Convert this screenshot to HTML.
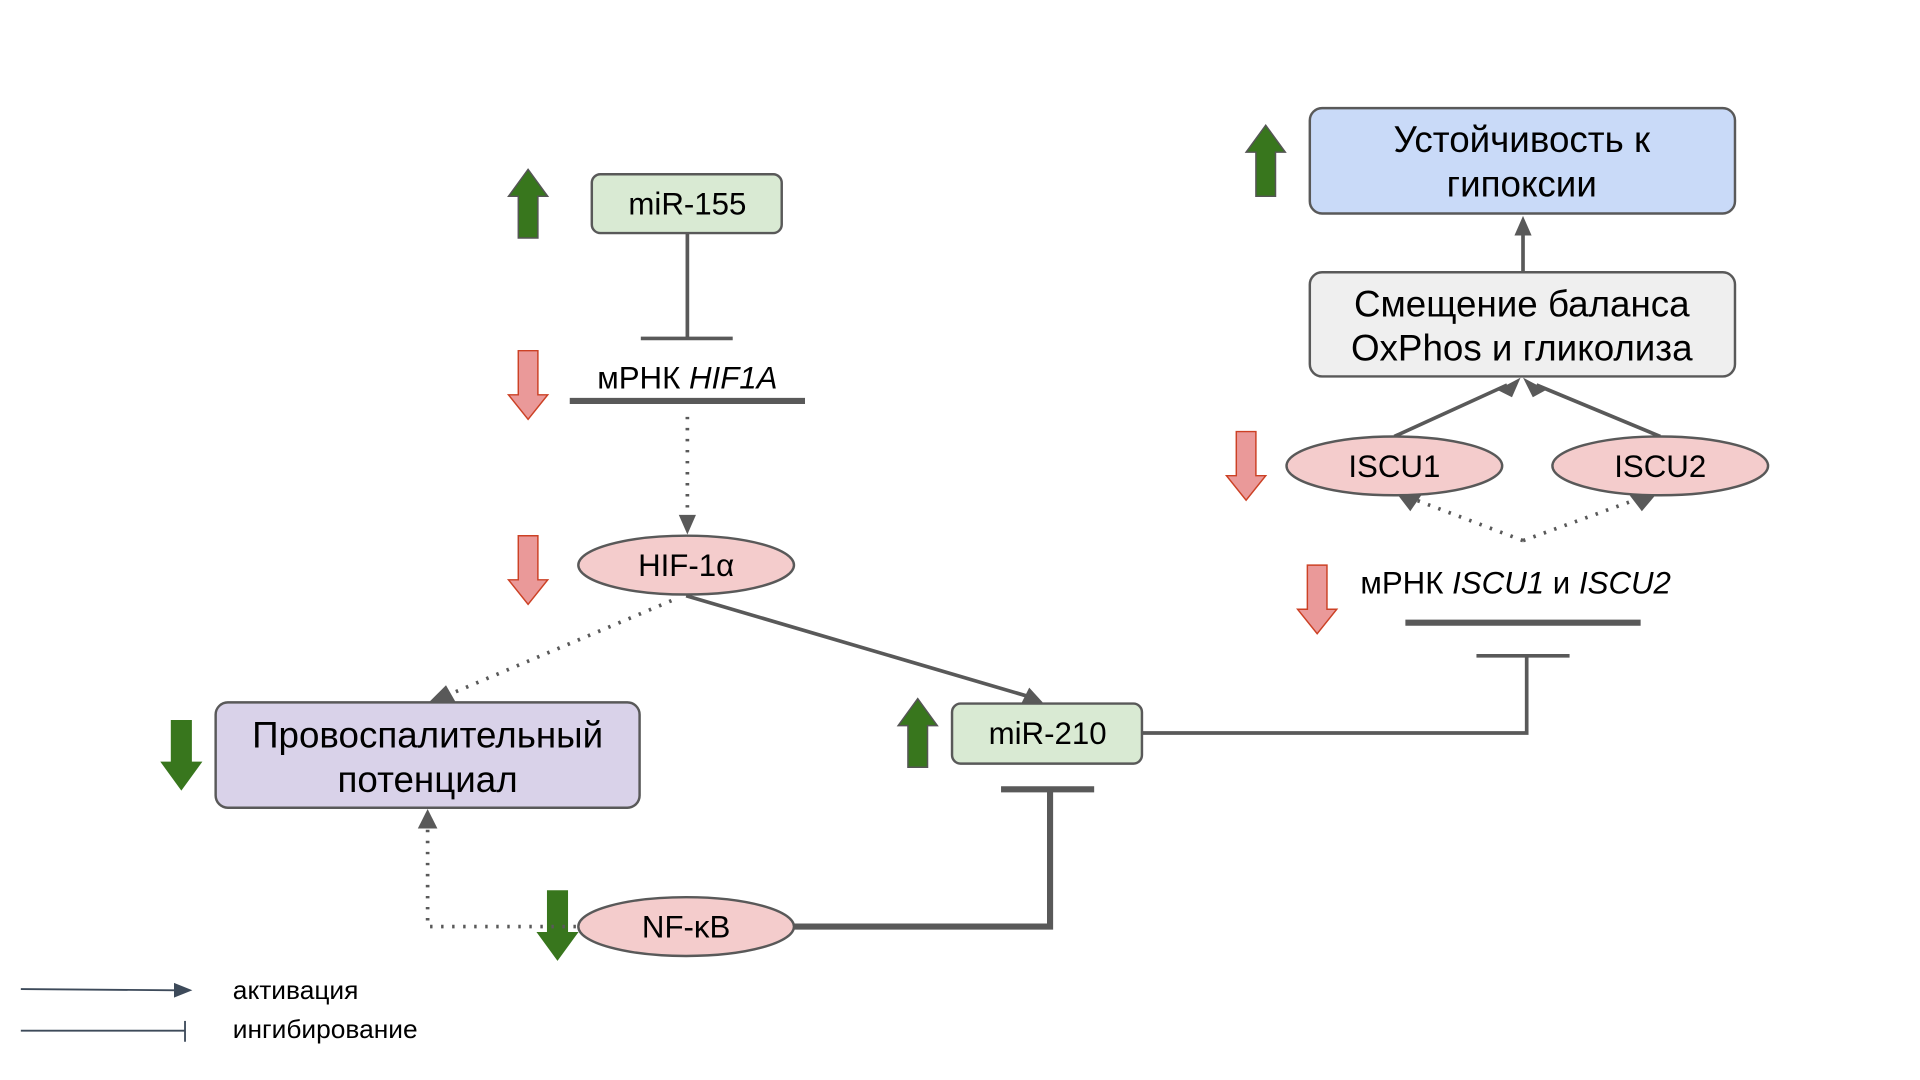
<!DOCTYPE html>
<html><head><meta charset="utf-8"><style>
html,body{margin:0;padding:0;background:#fff;}
svg{display:block;}
text{font-family:"Liberation Sans","DejaVu Sans",sans-serif;fill:#000;}
</style></head><body>
<svg width="1920" height="1080" viewBox="0 0 1567 881" xmlns="http://www.w3.org/2000/svg">
<rect width="1567" height="881" fill="#fff"/>

<g stroke-width="1.2">
<path d="M423,194 L423,160 L415,160 L431,138 L447,160 L439,160 L439,194 Z" fill="#38761d" stroke="#555"/>
<path d="M741,626 L741,592 L733,592 L749,570 L765,592 L757,592 L757,626 Z" fill="#38761d" stroke="#555"/>
<path d="M1025,160 L1025,124 L1017,124 L1033,102 L1049,124 L1041,124 L1041,160 Z" fill="#38761d" stroke="#555"/>
<path d="M140,588 L156,588 L156,622 L164,622 L148,644 L132,622 L140,622 Z" fill="#38761d" stroke="#38761d"/>
<path d="M447,727 L463,727 L463,761 L471,761 L455,783 L439,761 L447,761 Z" fill="#38761d" stroke="#38761d"/>
<path d="M423,286 L439,286 L439,322 L447,322 L431,342 L415,322 L423,322 Z" fill="#ea9999" stroke="#cc4125"/>
<path d="M423,437 L439,437 L439,473 L447,473 L431,493 L415,473 L423,473 Z" fill="#ea9999" stroke="#cc4125"/>
<path d="M1009,352 L1025,352 L1025,388 L1033,388 L1017,408 L1001,388 L1009,388 Z" fill="#ea9999" stroke="#cc4125"/>
<path d="M1067,461 L1083,461 L1083,497 L1091,497 L1075,517 L1059,497 L1067,497 Z" fill="#ea9999" stroke="#cc4125"/>
</g>

<g stroke="#595959" fill="none">
<line x1="561" y1="190" x2="561" y2="276" stroke-width="3"/>
<line x1="523" y1="276" x2="598" y2="276" stroke-width="3"/>
<line x1="465" y1="327" x2="657" y2="327" stroke-width="5"/>
<line x1="561" y1="340" x2="561" y2="428" stroke-width="3" stroke-dasharray="2,7"/>
<line x1="548" y1="490" x2="368" y2="566" stroke-width="3" stroke-dasharray="2,7"/>
<line x1="560" y1="486" x2="842" y2="569" stroke-width="3"/>
<line x1="817" y1="644" x2="893" y2="644" stroke-width="5"/>
<polyline points="857,644 857,756 648,756" stroke-width="5"/>
<polyline points="470,756 349,756 349,668" stroke-width="3" stroke-dasharray="2,7"/>
<polyline points="932,598 1246,598 1246,535" stroke-width="3"/>
<line x1="1205" y1="535" x2="1281" y2="535" stroke-width="3"/>
<line x1="1147" y1="508" x2="1339" y2="508" stroke-width="5"/>
<line x1="1243" y1="441" x2="1156" y2="408" stroke-width="3" stroke-dasharray="2,7"/>
<line x1="1243" y1="441" x2="1334" y2="408" stroke-width="3" stroke-dasharray="2,7"/>
<line x1="1138" y1="356" x2="1230" y2="314" stroke-width="3"/>
<line x1="1355" y1="356" x2="1254" y2="314" stroke-width="3"/>
<line x1="1243" y1="222" x2="1243" y2="186" stroke-width="3"/>
</g>
<g fill="#595959">
<path d="M554,420 L568,420 L561,436 Z"/>
<path d="M350,573 L372,573 L364,559 Z"/>
<path d="M851,573 L833,575 L840,561 Z"/>
<path d="M341,676 L357,676 L349,660 Z"/>
<path d="M1141,404 L1160,404 L1151,417 Z"/>
<path d="M1330,404 L1351,404 L1340,417 Z"/>
<path d="M1222,318 L1241,308 L1234,324 Z"/>
<path d="M1262,318 L1243,308 L1251,324 Z"/>
<path d="M1236,192 L1250,192 L1243,176 Z"/>
</g>

<g stroke="#595959" stroke-width="2">
<rect x="483" y="142" width="155" height="48" rx="7" fill="#d9ead3"/>
<rect x="777" y="574" width="155" height="49" rx="7" fill="#d9ead3"/>
<rect x="176" y="573" width="346" height="86" rx="10" fill="#d9d2e9"/>
<rect x="1069" y="222" width="347" height="85" rx="10" fill="#efefef"/>
<rect x="1069" y="88" width="347" height="86" rx="10" fill="#c9daf8"/>
<ellipse cx="560" cy="461" rx="88" ry="24" fill="#f4cccc"/>
<ellipse cx="560" cy="756" rx="88" ry="24" fill="#f4cccc"/>
<ellipse cx="1138" cy="380" rx="88" ry="24" fill="#f4cccc"/>
<ellipse cx="1355" cy="380" rx="88" ry="24" fill="#f4cccc"/>
</g>

<g font-size="25.5" text-anchor="middle">
<text x="561" y="175">miR-155</text>
<text x="855" y="607">miR-210</text>
<text x="560" y="470">HIF-1α</text>
<text x="560" y="765">NF-κB</text>
<text x="1138" y="389">ISCU1</text>
<text x="1355" y="389">ISCU2</text>
<text x="561" y="317">мРНК <tspan font-style="italic">HIF1A</tspan></text>
<text x="1237" y="484">мРНК <tspan font-style="italic">ISCU1</tspan> и <tspan font-style="italic">ISCU2</tspan></text>
</g>
<g font-size="30" text-anchor="middle">
<text x="349" y="610">Провоспалительный</text>
<text x="349" y="646">потенциал</text>
<text x="1242" y="258">Смещение баланса</text>
<text x="1242" y="294">OxPhos и гликолиза</text>
<text x="1242" y="124">Устойчивость к</text>
<text x="1242" y="160">гипоксии</text>
</g>

<g stroke="#3d4a5a" stroke-width="1.5">
<line x1="17" y1="807" x2="145" y2="808"/>
<line x1="17" y1="841" x2="151" y2="841"/>
<line x1="151" y1="833" x2="151" y2="850"/>
</g>
<path d="M142,802 L157,808 L142,814 Z" fill="#3d4a5a"/>
<text x="190" y="815" font-size="21.5">активация</text>
<text x="190" y="847" font-size="21.5">ингибирование</text>
</svg>
</body></html>
